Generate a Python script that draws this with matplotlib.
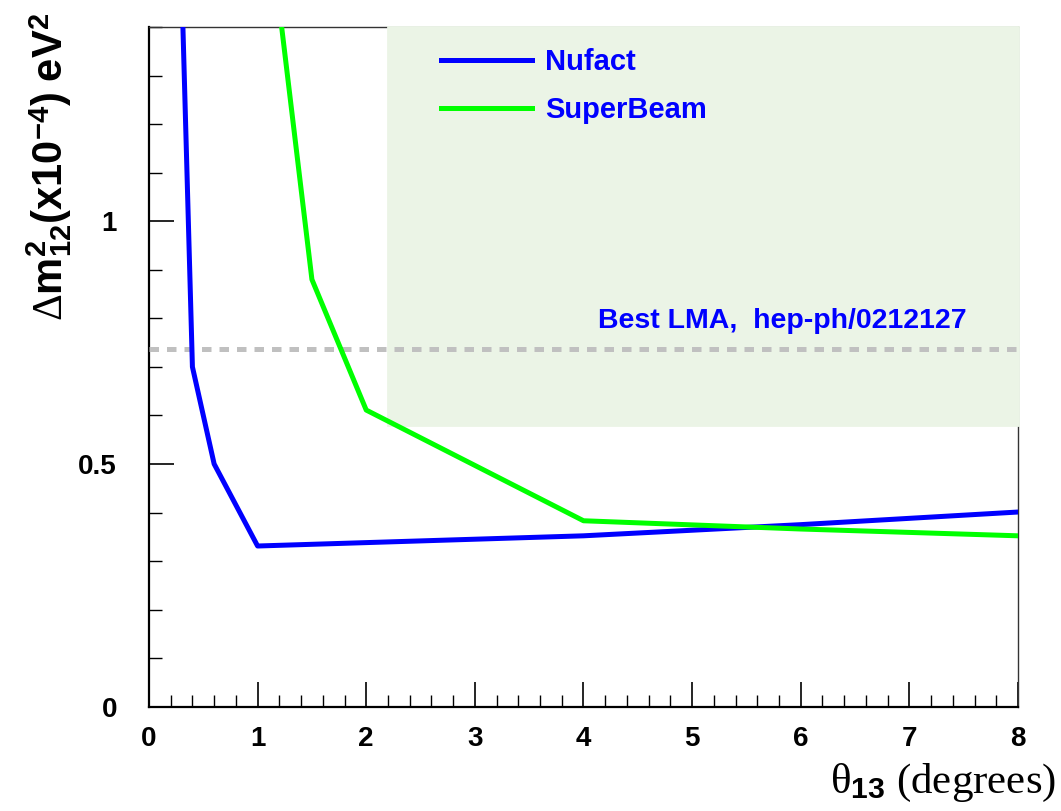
import numpy as np
import matplotlib
matplotlib.use("Agg")
import matplotlib.pyplot as plt
from matplotlib.patches import Rectangle

plt.rcParams['font.family'] = ['Liberation Sans', 'DejaVu Sans']
plt.rcParams['mathtext.fontset'] = 'custom'
plt.rcParams['mathtext.rm'] = 'Liberation Serif'
plt.rcParams['mathtext.it'] = 'Liberation Serif'
plt.rcParams['mathtext.bf'] = 'Liberation Sans:bold'

# Nufact sensitivity curve
nufact_theta = [0.3, 0.4, 0.6, 1.0, 2.0, 4.0, 6.0, 8.0]
nufact_dm = [1.50, 0.70, 0.50, 0.331, 0.338, 0.352, 0.375, 0.401]

# SuperBeam sensitivity curve
sb_theta = [1.2, 1.5, 2.0, 4.0, 6.0, 8.0]
sb_dm = [1.44, 0.88, 0.611, 0.383, 0.366, 0.352]

best_lma = 0.737
# allowed LMA region (shaded)
lma_theta = (2.2, 8.0)
lma_dm = (0.58, 1.4)

fig = plt.figure(figsize=(10.61, 8.11), dpi=100)
ax = fig.add_axes([0.1404, 0.1286, 0.8191, 0.8381])

ax.add_patch(Rectangle((lma_theta[0], lma_dm[0]), lma_theta[1] - lma_theta[0],
                       lma_dm[1] - lma_dm[0], facecolor='#ebf4e6', edgecolor='#ebf4e6',
                       lw=2.0, zorder=3, clip_on=False))

ax.plot([0, 8], [best_lma, best_lma], color='#c0c0c0', lw=3.6,
        dashes=(1.9, 1.6), zorder=4)
ax.plot(nufact_theta, nufact_dm, color='#0000ff', lw=3.6, label='Nufact', zorder=5)
ax.plot(sb_theta, sb_dm, color='#00ff00', lw=3.6, label='SuperBeam', zorder=5)

ax.text(4.13, 0.795, 'Best LMA,  hep-ph/0212127', color='#0000ff',
        fontsize=20.5, fontweight='bold', va='center', ha='left', zorder=6)

leg = ax.legend(loc='upper left', bbox_to_anchor=(0.306, 1.008), frameon=False,
                handlelength=3.1, handletextpad=0.45, labelspacing=0.7,
                prop={'weight': 'bold', 'size': 21}, labelcolor='#0000ff')
leg.set_zorder(7)

ax.set_xlim(0, 8)
ax.set_ylim(0, 1.4)
ax.set_xticks(np.arange(0, 9, 1))
ax.set_xticks(np.arange(0, 8.01, 0.2), minor=True)
ax.set_yticks([0, 0.5, 1])
ax.set_yticklabels(['0', '0.5', '1'])
ax.set_yticks(np.arange(0, 1.41, 0.1), minor=True)

ax.tick_params(which='both', direction='in', top=False, right=False)
ax.tick_params(which='major', length=18, width=1.2)
ax.tick_params(which='minor', length=9, width=1.0)
ax.tick_params(axis='x', which='major', labelsize=20, pad=14)
ax.tick_params(axis='y', which='major', labelsize=20, pad=23)
for lab in ax.get_xticklabels() + ax.get_yticklabels():
    lab.set_fontweight('bold')

for s in ['left', 'bottom']:
    ax.spines[s].set_linewidth(1.6)
for s in ['top', 'right']:
    ax.spines[s].set_linewidth(1.0)
    ax.spines[s].set_color('#333333')

fig.text(0.9955, 0.022,
         r'$\theta_{\mathbf{13}}\ \mathrm{(degrees)}$', fontsize=31,
         ha='right', va='baseline')
fig.text(0.046, 0.984,
         r'$\Delta\mathbf{m}_{\mathbf{12}}^{\mathbf{2}}\mathbf{(x10}^{\mathbf{-4}}\mathbf{)\ eV}^{\mathbf{2}}$',
         fontsize=30, rotation=90, ha='center', va='top')

fig.savefig('out.png', dpi=100)
